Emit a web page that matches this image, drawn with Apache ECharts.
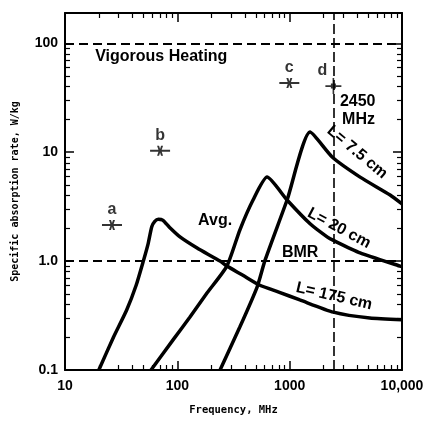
<!DOCTYPE html>
<html><head><meta charset="utf-8">
<script src="https://cdn.jsdelivr.net/npm/echarts@6/dist/echarts.min.js"></script>
<style>html,body{margin:0;padding:0;background:#fff}#c{width:427px;height:422px}</style>
</head><body><div id="c"></div>
<script>
// ---- data ----
const xTickValues = [10, 100, 1000, 10000];
const xTickLabels = ['10', '100', '1000', '10,000'];
const yTickValues = [0.1, 1, 10, 100];
const yTickLabels = ['0.1', '1.0', '10', '100'];

const avgFreq = [20, 27, 35.4, 43, 49.8, 55, 59.2, 63, 67.8, 74, 85, 105.6, 150, 240, 276, 380, 543, 800, 1233, 2450, 5165, 10000];
const avgSAR  = [0.1, 0.2, 0.356, 0.6, 1.0, 1.45, 2.07, 2.32, 2.42, 2.38, 2.05, 1.67, 1.32, 1.0, 0.9, 0.745, 0.6, 0.52, 0.44, 0.34, 0.3, 0.29];

const l20Freq = [58.3, 91.6, 129.6, 183.6, 276, 360, 472, 629, 948, 1520, 2153, 2450, 4236, 9620, 10000];
const l20SAR  = [0.1, 0.189, 0.307, 0.509, 0.9, 1.93, 3.64, 5.91, 3.64, 2.2, 1.67, 1.55, 1.19, 0.9, 0.89];

const l75Freq = [240, 360, 513, 604, 948, 1520, 2389, 4236, 7834, 10000];
const l75SAR  = [0.1, 0.248, 0.578, 1.02, 3.64, 15.3, 9.04, 5.91, 4.05, 3.35];

const pointNames = ['a', 'b', 'c', 'd'];
const pointFreq  = [26.2, 70.2, 993, 2450];
const pointSAR   = [2.15, 10.3, 43.2, 40.5];

const refLevels = [100, 1.0];   // Vigorous heating, BMR
const refFreq   = [2450];

// ---- helpers ----
const FONT = 'Liberation Sans, Arial, sans-serif';
const minorX = [], minorY = [];
for (let d = 1; d < 4; d++) for (let k = 2; k <= 9; k++) minorX.push(d + Math.log10(k));
for (let d = -1; d < 2; d++) for (let k = 2; k <= 9; k++) minorY.push(d + Math.log10(k));
const yMax = 190;

function fmt(values, labels) {
  return function (v) {
    const i = values.findIndex(t => Math.abs(Math.log10(v) - Math.log10(t)) < 1e-6);
    return i >= 0 ? labels[i] : '';
  };
}
const lineAxis = {show: true, onZero: false, lineStyle: {color: '#000', width: 2}};
const hiddenLine = {show: false, onZero: false};
const majorTick = {show: true, inside: true, length: 9, lineStyle: {color: '#000', width: 1.5}};
const minorTickCfg = (vals) => ({show: true, inside: true, length: 5, customValues: vals, lineStyle: {color: '#000', width: 1.2}});

const toPairs = (xs, ys) => xs.map((x, i) => [x, ys[i]]);

const barPath = 'path://M0 4.2 L20 4.2 L20 5.8 L0 5.8 Z M7 1 L9 1 L10 3.5 L11 1 L13 1 L11.3 5 L13 9 L11 9 L10 6.5 L9 9 L7 9 L8.7 5 Z';
const plusPath = 'path://M0 7.2 L16 7.2 L16 8.8 L0 8.8 Z M7.2 0 L8.8 0 L8.8 16 L7.2 16 Z M5.5 5.5 L10.5 5.5 L10.5 10.5 L5.5 10.5 Z';

const option = {
  animation: false,
  backgroundColor: '#fff',
  grid: {left: 65, right: 25, top: 13, bottom: 52},
  xAxis: [
    {type: 'log', logBase: 10, min: 10, max: 10000, position: 'bottom',
     axisLine: lineAxis, axisTick: majorTick, splitLine: {show: false},
     axisLabel: {formatter: fmt(xTickValues, xTickLabels), margin: 9, color: '#000', fontSize: 14, fontWeight: 'bold', fontFamily: FONT},
     name: 'Frequency, MHz', nameLocation: 'middle', nameGap: 35,
     nameTextStyle: {fontFamily: 'DejaVu Sans Mono', fontSize: 10.5, fontWeight: 'bold', color: '#000'}},
    {type: 'log', logBase: 10, min: 10, max: 10000, position: 'top',
     axisLine: lineAxis, axisTick: majorTick, axisLabel: {show: false}, splitLine: {show: false}},
    {type: 'value', min: 1, max: 4, position: 'bottom',
     axisLine: hiddenLine, axisTick: minorTickCfg(minorX), axisLabel: {show: false}, splitLine: {show: false}},
    {type: 'value', min: 1, max: 4, position: 'top',
     axisLine: hiddenLine, axisTick: minorTickCfg(minorX), axisLabel: {show: false}, splitLine: {show: false}}
  ],
  yAxis: [
    {type: 'log', logBase: 10, min: 0.1, max: yMax, position: 'left',
     axisLine: lineAxis, axisTick: majorTick, splitLine: {show: false},
     axisLabel: {formatter: fmt(yTickValues, yTickLabels), margin: 7, color: '#000', fontSize: 14, fontWeight: 'bold', fontFamily: FONT},
     name: 'Specific absorption rate, W/kg', nameLocation: 'middle', nameGap: 45,
     nameTextStyle: {fontFamily: 'DejaVu Sans Mono', fontSize: 10, fontWeight: 'bold', color: '#000'}},
    {type: 'log', logBase: 10, min: 0.1, max: yMax, position: 'right',
     axisLine: lineAxis, axisTick: majorTick, axisLabel: {show: false}, splitLine: {show: false}},
    {type: 'value', min: -1, max: Math.log10(yMax), position: 'left',
     axisLine: hiddenLine, axisTick: minorTickCfg(minorY), axisLabel: {show: false}, splitLine: {show: false}},
    {type: 'value', min: -1, max: Math.log10(yMax), position: 'right',
     axisLine: hiddenLine, axisTick: minorTickCfg(minorY), axisLabel: {show: false}, splitLine: {show: false}}
  ],
  series: [
    {type: 'line', name: 'Avg', data: toPairs(avgFreq, avgSAR), smooth: 0.2, showSymbol: false,
     lineStyle: {color: '#000', width: 3.5}, z: 3,
     markLine: {silent: true, symbol: ['none', 'none'], label: {show: false},
       lineStyle: {color: '#000', width: 2, type: [9, 5]},
       data: refLevels.map(v => ({yAxis: v})).concat(refFreq.map(f => ({xAxis: f, lineStyle: {type: [10, 4], width: 1.6}})))}},
    {type: 'line', name: 'L20', data: toPairs(l20Freq, l20SAR), smooth: 0.2, showSymbol: false,
     lineStyle: {color: '#000', width: 3.5}, z: 3},
    {type: 'line', name: 'L75', data: toPairs(l75Freq, l75SAR), smooth: 0.2, showSymbol: false,
     lineStyle: {color: '#000', width: 3.5}, z: 3},
    {type: 'scatter', name: 'points', z: 4,
     data: pointFreq.map((f, i) => {
       const isD = pointNames[i] === 'd';
       return {name: pointNames[i], value: [f, pointSAR[i]],
         symbol: isD ? plusPath : barPath, symbolSize: isD ? [16, 16] : [20, 10],
         label: isD ? {offset: [-11, 3]} : {}};
     }),
     itemStyle: {color: '#000'},
     label: {show: true, position: 'top', distance: 2, formatter: p => p.name,
       color: '#000', fontSize: 16, fontWeight: 'bold', fontFamily: FONT}}
  ]
};

const chart = echarts.init(document.getElementById('c'));
chart.setOption(option);

const annotations = [
  {text: 'Vigorous Heating', at: [72, 76], rot: 0, align: 'center'},
  {text: 'Avg.', at: [217, 2.38], rot: 0, align: 'center'},
  {text: 'BMR', at: [1240, 1.21], rot: 0, align: 'center'},
  {text: '2450', at: [2800, 29], rot: 0, align: 'left'},
  {text: 'MHz', at: [2930, 19.8], rot: 0, align: 'left'},
  {text: 'L= 7.5 cm', at: [3985, 10.0], rot: -40, align: 'center'},
  {text: 'L= 20 cm', at: [2754, 2.0], rot: -28, align: 'center'},
  {text: 'L= 175 cm', at: [2483, 0.475], rot: -13, align: 'center'}
];
chart.setOption({
  graphic: annotations.map(a => {
    const p = chart.convertToPixel({xAxisIndex: 0, yAxisIndex: 0}, a.at);
    return {type: 'text', x: p[0], y: p[1], rotation: a.rot * Math.PI / 180, z: 10,
      style: {text: a.text, fill: '#000', fontSize: 16, fontWeight: 'bold', fontFamily: FONT,
        align: a.align, verticalAlign: 'middle'}};
  })
});
</script>
</body></html>
